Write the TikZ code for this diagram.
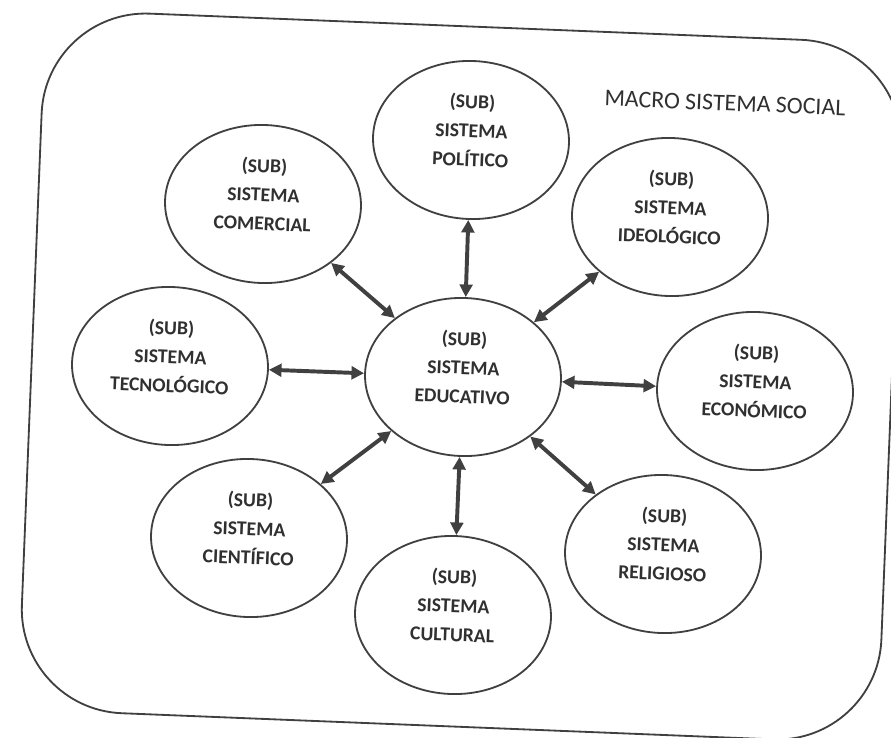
\documentclass[tikz,border=0pt]{standalone}
\usepackage{fontspec}
\setmainfont{Carlito}
\usepackage{tikz}
\usetikzlibrary{arrows.meta,shapes.geometric}
\definecolor{ink}{HTML}{404040}
\definecolor{letra}{HTML}{303030}
\tikzstyle{subsistema}=[ellipse, draw=ink, line width=1.3pt, minimum width=4.9cm, minimum height=3.95cm, inner sep=0pt, align=center, text=letra, font=\fontsize{14}{20.5}\selectfont\bfseries, rotate=-2.3]
\tikzstyle{macro}=[text=letra, font=\fontsize{17}{20}\selectfont, rotate=-2.3]
\tikzstyle{marco}=[rectangle, rounded corners=2.6cm, draw=ink, line width=1.3pt, minimum width=21.5cm, minimum height=17.5cm, rotate=-2.3]
\tikzstyle{biarrow}=[{Triangle[length=9pt,width=9pt]}-{Triangle[length=9pt,width=9pt]}, draw=ink, line width=2.8pt]
\newcommand{\subsis}[1]{(SUB)\\SISTEMA\\#1\\[-6.5pt]\mbox{}}
\pgfdeclarelayer{edgelayer}
\pgfdeclarelayer{nodelayer}
\pgfsetlayers{edgelayer,nodelayer,main}

\begin{document}
\begin{tikzpicture}[x=0.025cm, y=-0.025cm]
            \useasboundingbox (0, 0) rectangle (891, 737);
            \begin{pgfonlayer}{nodelayer}
                \node [style=marco] (marco) at (461.5, 376.5) {};
                \node [style=macro] (social) at (725, 103) {MACRO SISTEMA SOCIAL};
                \node [style=subsistema] (educativo) at (463, 377) {\subsis{EDUCATIVO}};
                \node [style=subsistema] (politico) at (471, 140) {\subsis{POLÍTICO}};
                \node [style=subsistema] (comercial) at (263, 204) {\subsis{COMERCIAL}};
                \node [style=subsistema] (ideologico) at (670, 217) {\subsis{IDEOLÓGICO}};
                \node [style=subsistema] (tecnologico) at (170, 366) {\subsis{TECNOLÓGICO}};
                \node [style=subsistema] (economico) at (755, 391) {\subsis{ECONÓMICO}};
                \node [style=subsistema] (cientifico) at (249, 538) {\subsis{CIENTÍFICO}};
                \node [style=subsistema] (cultural) at (453, 615) {\subsis{CULTURAL}};
                \node [style=subsistema] (religioso) at (663, 554) {\subsis{RELIGIOSO}};
            \end{pgfonlayer}
            \begin{pgfonlayer}{edgelayer}
                \draw [style=biarrow] (politico) to (educativo);
                \draw [style=biarrow] (comercial) to (educativo);
                \draw [style=biarrow] (ideologico) to (educativo);
                \draw [style=biarrow] (tecnologico) to (educativo);
                \draw [style=biarrow] (economico) to (educativo);
                \draw [style=biarrow] (cientifico) to (educativo);
                \draw [style=biarrow] (cultural) to (educativo);
                \draw [style=biarrow] (religioso) to (educativo);
            \end{pgfonlayer}
        \end{tikzpicture}
\end{document}
